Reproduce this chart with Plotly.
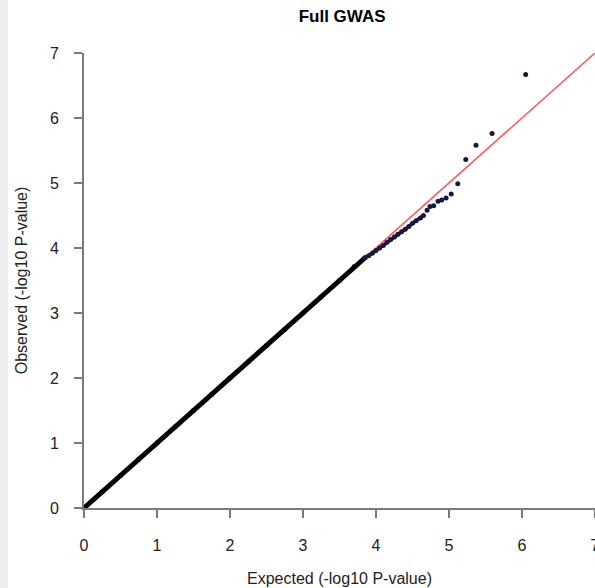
import plotly.graph_objects as go

# Bulk of the QQ points: they sit on the diagonal and merge into a thick band
bulk_expected = [0.0, 0.25, 0.5, 0.75, 1.0, 1.25, 1.5, 1.75, 2.0, 2.25, 2.5,
                 2.75, 3.0, 3.25, 3.5, 3.7, 3.85]
bulk_observed = [0.0, 0.25, 0.5, 0.75, 1.0, 1.25, 1.5, 1.75, 2.0, 2.25, 2.5,
                 2.75, 3.0, 3.25, 3.5, 3.71, 3.85]

# Upper tail of the distribution, plotted as individual points
tail_expected = [3.85, 3.9, 3.95, 4.0, 4.05, 4.1, 4.15, 4.2, 4.25, 4.3, 4.35,
                 4.4, 4.45, 4.5, 4.55, 4.61, 4.65, 4.70, 4.74, 4.79, 4.85,
                 4.90, 4.96, 5.03, 5.12, 5.23, 5.37, 5.59, 6.05]
tail_observed = [3.85, 3.88, 3.92, 3.96, 4.0, 4.04, 4.09, 4.13, 4.17, 4.21,
                 4.25, 4.29, 4.33, 4.38, 4.42, 4.46, 4.50, 4.58, 4.64, 4.65,
                 4.72, 4.74, 4.77, 4.83, 4.99, 5.36, 5.58, 5.76, 6.67]

# Null expectation y = x
ref_line = [0.0, 7.5]

axis_ticks = [0, 1, 2, 3, 4, 5, 6, 7]

FONT = "Liberation Sans, Arial, sans-serif"
AXIS_GREY = "#7a7a7a"

fig = go.Figure()

fig.add_trace(go.Scatter(
    x=ref_line, y=ref_line, mode="lines",
    line=dict(color="rgb(255,90,90)", width=1.6),
    hoverinfo="skip", showlegend=False,
))

fig.add_trace(go.Scatter(
    x=bulk_expected, y=bulk_observed, mode="lines+markers",
    line=dict(color="black", width=5),
    marker=dict(color="black", size=5),
    cliponaxis=False, showlegend=False,
))

# The dense part of the tail reads as a short band just under y = x
fig.add_trace(go.Scatter(
    x=tail_expected[:17], y=tail_observed[:17], mode="lines",
    line=dict(color="#15152e", width=3.5),
    hoverinfo="skip", showlegend=False,
))

fig.add_trace(go.Scatter(
    x=tail_expected, y=tail_observed, mode="markers",
    marker=dict(color="#18183f", size=5),
    cliponaxis=False, showlegend=False,
))

axis_common = dict(
    range=[0, 7], tickvals=axis_ticks, ticktext=[str(t) for t in axis_ticks],
    showgrid=False, zeroline=False, automargin=False,
    showline=True, linecolor=AXIS_GREY, linewidth=2,
    ticks="outside", ticklen=8, tickwidth=1.5, tickcolor=AXIS_GREY,
    ticklabeloverflow="allow",
    tickfont=dict(family=FONT, size=16, color="#222"),
)

fig.update_layout(
    width=595, height=588,
    margin=dict(l=84, r=0, t=53, b=80, autoexpand=False),
    paper_bgcolor="white", plot_bgcolor="white",
    font=dict(family=FONT, color="#222"),
    title=dict(
        text="<b>Full GWAS</b>", x=0.575, xref="container", xanchor="center",
        y=1 - 16 / 588, yref="container", yanchor="middle",
        font=dict(family=FONT, size=17, color="black"),
    ),
    xaxis=dict(
        **axis_common, ticklabelstandoff=14,
        title=dict(text="Expected (-log10 P-value)", standoff=20,
                   font=dict(family=FONT, size=16, color="#222")),
    ),
    yaxis=dict(
        **axis_common, ticklabelstandoff=12,
        title=dict(text="Observed (-log10 P-value)", standoff=18,
                   font=dict(family=FONT, size=16, color="#222")),
    ),
    shapes=[dict(
        type="rect", xref="paper", yref="paper",
        x0=-84 / 511, x1=-76 / 511, y0=-80 / 455, y1=1 + 53 / 455,
        fillcolor="#efefef", line=dict(width=0), layer="below",
    )],
)

fig.write_html("out.html")
